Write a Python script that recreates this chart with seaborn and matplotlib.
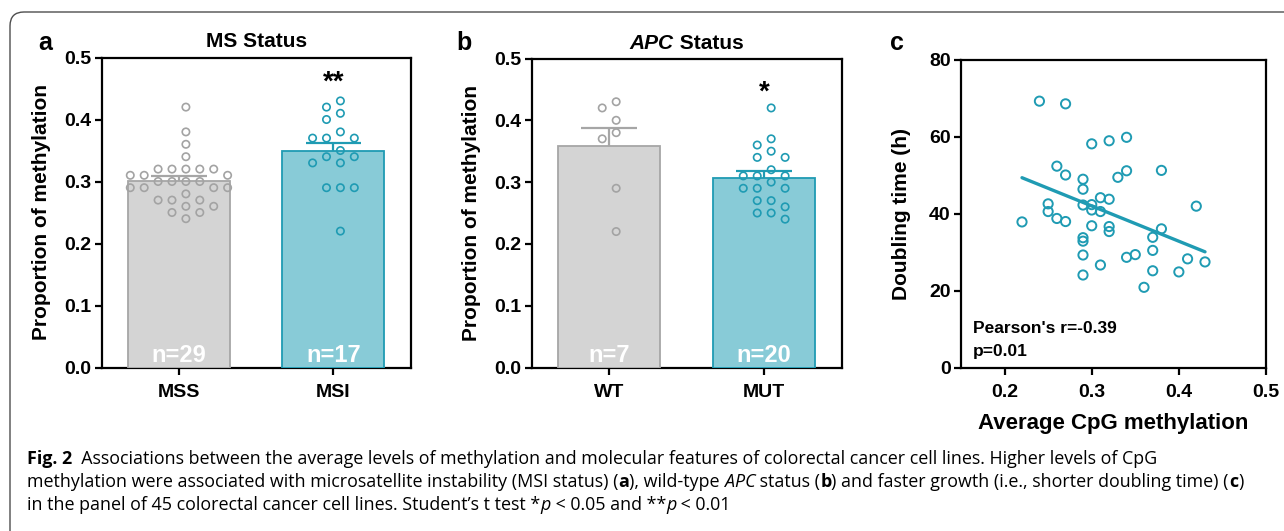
import numpy as np
import pandas as pd
import matplotlib
matplotlib.use("Agg")
import matplotlib.pyplot as plt
import seaborn as sns
from matplotlib.patches import FancyBboxPatch
from matplotlib.transforms import IdentityTransform

# ---------------- data ----------------
ms_groups = ["MSS", "MSI"]
mss_values = [0.42, 0.38, 0.36, 0.34, 0.32, 0.32, 0.32, 0.32, 0.32, 0.31, 0.31, 0.31,
              0.30, 0.30, 0.30, 0.30, 0.29, 0.29, 0.29, 0.29, 0.28, 0.27, 0.27, 0.27,
              0.26, 0.26, 0.25, 0.25, 0.24]
msi_values = [0.43, 0.42, 0.41, 0.40, 0.38, 0.37, 0.37, 0.37, 0.35, 0.34, 0.34, 0.33,
              0.33, 0.29, 0.29, 0.29, 0.22]

apc_groups = ["WT", "MUT"]
wt_values = [0.43, 0.42, 0.40, 0.38, 0.37, 0.29, 0.22]
mut_values = [0.42, 0.37, 0.36, 0.35, 0.34, 0.34, 0.32, 0.31, 0.31, 0.31, 0.30, 0.29,
              0.29, 0.29, 0.27, 0.27, 0.26, 0.25, 0.25, 0.24]

cpg_methylation = [0.22, 0.24, 0.25, 0.25, 0.26, 0.26, 0.27, 0.27, 0.27,
                   0.29, 0.29, 0.29, 0.29, 0.29, 0.29, 0.29,
                   0.30, 0.30, 0.30, 0.30, 0.31, 0.31, 0.31,
                   0.32, 0.32, 0.32, 0.32, 0.33, 0.34, 0.34, 0.34, 0.35, 0.36,
                   0.37, 0.37, 0.37, 0.38, 0.38, 0.40, 0.41, 0.42, 0.43]
doubling_time = [37.9, 69.3, 42.6, 40.6, 52.4, 38.8, 68.6, 50.1, 38.0,
                 49.0, 46.4, 42.3, 33.8, 32.9, 29.3, 24.1,
                 58.2, 42.4, 41.0, 36.9, 44.2, 40.6, 26.7,
                 59.0, 43.8, 36.7, 35.4, 49.5, 59.9, 51.2, 28.7, 29.4, 20.9,
                 33.9, 30.5, 25.2, 51.3, 36.1, 24.9, 28.3, 42.0, 27.5]

y_ticks_bar = [0.0, 0.1, 0.2, 0.3, 0.4, 0.5]
x_ticks_c = [0.2, 0.3, 0.4, 0.5]
y_ticks_c = [0, 20, 40, 60, 80]

# ---------------- style ----------------
GRAY_FILL, GRAY_EDGE, GRAY_PT = "#d4d4d4", "#a6a6a6", "#a3a3a3"
TEAL_FILL, TEAL_EDGE, TEAL_PT = "#88cbd7", "#1f9bb3", "#1f9bb3"
TICK_SIZE = 14

sns.set_theme(style="ticks")
plt.rcParams["font.family"] = ["Liberation Sans", "DejaVu Sans"]
plt.rcParams["font.weight"] = "bold"
plt.rcParams["axes.linewidth"] = 1.6
for key in ("text.color", "axes.labelcolor", "xtick.color", "ytick.color",
            "xtick.labelcolor", "ytick.labelcolor", "axes.edgecolor"):
    plt.rcParams[key] = "black"

W, H = 1284, 531
fig = plt.figure(figsize=(W / 100, H / 100), dpi=100)
fig.patch.set_facecolor("white")


def ax_px(l, t, r, b):
    return fig.add_axes([l / W, 1 - b / H, (r - l) / W, (b - t) / H])


def swarm_offsets(values, spacing, ythresh=0.015):
    vals = np.asarray(values, dtype=float)
    order = np.argsort(-vals, kind="stable")
    cands = [sgn * (k + 0.5) for k in range(12) for sgn in (1, -1)]
    placed = []
    offs = np.zeros(len(vals))
    for i in order:
        y = vals[i]
        for c in cands:
            if not any(ps == c and abs(py - y) < ythresh for ps, py in placed):
                placed.append((c, y))
                offs[i] = c * spacing
                break
    return offs


def bar_panel(ax, groups, series, fills, edges, pts, stars):
    df = pd.DataFrame({
        "group": np.repeat(groups, [len(s) for s in series]),
        "value": np.concatenate([np.asarray(s, float) for s in series]),
    })
    sns.barplot(data=df, x="group", y="value", hue="group", order=groups,
                hue_order=groups, palette=dict(zip(groups, fills)), legend=False,
                errorbar="se", capsize=0.36, width=0.66, saturation=1,
                err_kws={"linewidth": 1.6}, linewidth=1.3, ax=ax)
    for p, e in zip(ax.patches, edges):
        p.set_edgecolor(e)
        p.set_zorder(3)
    for ln in ax.lines:
        xd = np.asarray(ln.get_xdata(), dtype=float)
        if np.all(np.isnan(xd)):
            continue
        idx = int(round(float(np.nanmean(xd))))
        idx = min(max(idx, 0), len(edges) - 1)
        ln.set_color(edges[idx])
        ln.set_zorder(2.5)
        ln.set_solid_capstyle("butt")
    for i, (vals, col) in enumerate(zip(series, pts)):
        offs = swarm_offsets(vals, 0.09)
        sns.scatterplot(x=i + offs, y=vals, ax=ax, s=28, marker="o", legend=False)
        coll = ax.collections[-1]
        coll.set_facecolor("none")
        coll.set_edgecolor(col)
        coll.set_linewidth(1.2)
        coll.set_zorder(4)
        ax.text(i, 0.009, f"n={len(vals)}", ha="center", va="baseline",
                color="white", fontsize=17, fontweight="bold", zorder=5)
    for i, (s, yv) in enumerate(stars):
        if s:
            ax.text(i, yv, s, ha="center", va="baseline", fontsize=20,
                    fontweight="bold", color="black", zorder=5)
    ax.set_xlim(-0.5, 1.5)
    ax.set_ylim(0, 0.5)
    ax.set_yticks(y_ticks_bar)
    ax.set_yticklabels([f"{v:.1f}" for v in y_ticks_bar])
    ax.set_xticks(range(len(groups)))
    ax.set_xticklabels(groups)
    ax.set_xlabel("")
    ax.set_ylabel("Proportion of methylation", fontsize=15, fontweight="bold",
                  color="black")
    ax.yaxis.set_label_coords(-0.165, 0.5)
    ax.tick_params(axis="both", width=1.6, length=5, labelsize=TICK_SIZE,
                   colors="black", labelcolor="black")
    ax.tick_params(axis="x", pad=7)
    ax.tick_params(axis="y", pad=2.5)
    for sp in ax.spines.values():
        sp.set_linewidth(1.6)
        sp.set_color("black")
        sp.set_visible(True)


axa = ax_px(101.7, 57.5, 410.7, 367.5)
axb = ax_px(531.7, 58.5, 841.7, 367.5)
axc = ax_px(961, 60, 1266, 367.7)

bar_panel(axa, ms_groups, [mss_values, msi_values], [GRAY_FILL, TEAL_FILL],
          [GRAY_EDGE, TEAL_EDGE], [GRAY_PT, TEAL_PT], [("", 0), ("**", 0.448)])
bar_panel(axb, apc_groups, [wt_values, mut_values], [GRAY_FILL, TEAL_FILL],
          [GRAY_EDGE, TEAL_EDGE], [GRAY_PT, TEAL_PT], [("", 0), ("*", 0.434)])

# ---------------- panel c ----------------
sns.scatterplot(x=cpg_methylation, y=doubling_time, ax=axc, s=44, marker="o", legend=False)
cc = axc.collections[-1]
cc.set_facecolor("none")
cc.set_edgecolor(TEAL_PT)
cc.set_linewidth(1.4)
cc.set_zorder(4)
sns.regplot(x=cpg_methylation, y=doubling_time, ax=axc, scatter=False, ci=None,
            truncate=True, color=TEAL_EDGE, line_kws={"linewidth": 2.4})
axc.set_xlim(0.15, 0.5)
axc.set_ylim(0, 80)
axc.set_xticks(x_ticks_c)
axc.set_xticklabels([f"{v:.1f}" for v in x_ticks_c])
axc.set_yticks(y_ticks_c)
axc.set_yticklabels([str(v) for v in y_ticks_c])
axc.set_xlabel("Average CpG methylation", fontsize=16, fontweight="bold", color="black")
axc.set_ylabel("Doubling time (h)", fontsize=15, fontweight="bold", color="black")
axc.yaxis.set_label_coords(-0.165, 0.5)
axc.xaxis.set_label_coords(0.5, -0.148)
axc.tick_params(axis="both", width=1.6, length=5, labelsize=TICK_SIZE,
                colors="black", labelcolor="black")
axc.tick_params(axis="x", pad=7)
axc.tick_params(axis="y", pad=2.5)
for sp in axc.spines.values():
    sp.set_linewidth(1.6)
    sp.set_color("black")
    sp.set_visible(True)
axc.text(0.04, 0.113, "Pearson's r=-0.39", transform=axc.transAxes, fontsize=12.5,
         fontweight="bold", va="baseline", ha="left", color="black")
axc.text(0.04, 0.038, "p=0.01", transform=axc.transAxes, fontsize=12.5,
         fontweight="bold", va="baseline", ha="left", color="black")

# ---------------- texts ----------------
renderer = fig.canvas.get_renderer()


def segments(x_px, y_px, segs, size, family, align="left"):
    texts = []
    for txt, style in segs:
        t = fig.text(0, 1 - y_px / H, txt, fontsize=size, family=family,
                     fontweight="bold" if "b" in style else "normal",
                     fontstyle="italic" if "i" in style else "normal",
                     va="baseline", ha="left", color="black")
        texts.append(t)
    widths = [t.get_window_extent(renderer).width for t in texts]
    x = x_px - (sum(widths) / 2 if align == "center" else 0)
    for t, w in zip(texts, widths):
        t.set_x(x / W)
        x += w


bold_fam = ["Liberation Sans", "DejaVu Sans"]
segments(256.2, 47, [("MS Status", "b")], 15, bold_fam, align="center")
segments(686.7, 49, [("APC", "bi"), (" Status", "b")], 15, bold_fam, align="center")

for letter, xp in (("a", 45), ("b", 464), ("c", 897)):
    fig.text(xp / W, 1 - 50 / H, letter, fontsize=18, fontweight="bold",
             ha="center", va="baseline", color="black")

cap_fam = ["Open Sans", "DejaVu Sans"]
cap_size = 12.9
segments(27, 464, [("Fig. 2", "b"),
                   ("  Associations between the average levels of methylation and molecular "
                    "features of colorectal cancer cell lines. Higher levels of CpG", "")],
         cap_size, cap_fam)
segments(27, 487, [("methylation were associated with microsatellite instability (MSI status) (", ""),
                   ("a", "b"), ("), wild-type ", ""), ("APC", "i"), (" status (", ""), ("b", "b"),
                   (") and faster growth (i.e., shorter doubling time) (", ""), ("c", "b"),
                   (")", "")], cap_size, cap_fam)
segments(27, 510, [("in the panel of 45 colorectal cancer cell lines. Student\u2019s t test *", ""),
                   ("p", "i"), (" < 0.05 and **", ""), ("p", "i"), (" < 0.01", "")],
         cap_size, cap_fam)

box = FancyBboxPatch((10, -40), 1330, H - 12 + 40,
                     boxstyle="round,pad=0,rounding_size=14",
                     transform=IdentityTransform(), facecolor="none",
                     edgecolor="#4d4d4d", linewidth=1.0)
fig.add_artist(box)

fig.savefig("out.png", dpi=100, facecolor="white")
